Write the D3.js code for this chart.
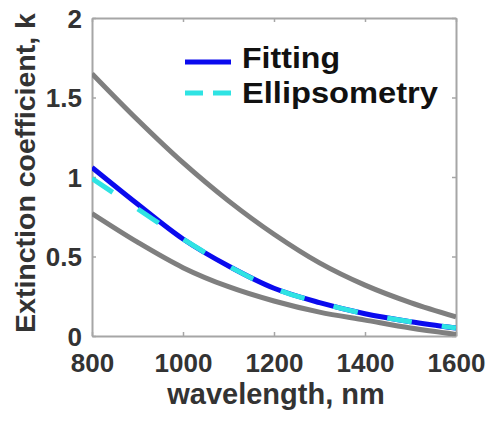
<!DOCTYPE html>
<html>
<head>
<meta charset="utf-8">
<script src="https://cdn.jsdelivr.net/npm/d3@7"></script>
<style>
  html, body { margin: 0; padding: 0; background: #fff; }
  svg { display: block; }
  text { font-family: "Liberation Sans", Arial, sans-serif; font-weight: bold; }
</style>
</head>
<body>
<svg id="chart" width="489" height="422"></svg>
<script>
// ---- data ----
const wavelengths = [800, 900, 1000, 1100, 1200, 1300, 1400, 1500, 1600];
const upperBound  = [1.65, 1.36, 1.09, 0.85, 0.64, 0.46, 0.32, 0.21, 0.12];
const fitting     = [1.06, 0.83, 0.61, 0.44, 0.30, 0.21, 0.14, 0.09, 0.05];
const ellipsometry= [0.99, 0.80, 0.61, 0.44, 0.30, 0.21, 0.14, 0.09, 0.05];
const lowerBound  = [0.77, 0.59, 0.43, 0.31, 0.22, 0.15, 0.10, 0.05, 0.01];
const xTicks = [800, 1000, 1200, 1400, 1600];
const yTicks = [0, 0.5, 1, 1.5, 2];
const legendLabels = ["Fitting", "Ellipsometry"];

const svg = d3.select("#chart");
const m = { left: 92, right: 456, top: 18, bottom: 336 };

const x = d3.scaleLinear().domain([800, 1600]).range([m.left, m.right]);
const y = d3.scaleLinear().domain([0, 2]).range([m.bottom, m.top]);

svg.append("defs").append("clipPath").attr("id", "clip")
  .append("rect").attr("x", m.left).attr("y", m.top)
  .attr("width", m.right - m.left).attr("height", m.bottom - m.top);

const axisColor = "#a6a6a6";
const labelColor = "#333333";

// axes (ticks inward, box)
const gx = svg.append("g").attr("transform", `translate(0,${m.bottom})`)
  .call(d3.axisBottom(x).tickValues(xTicks).tickSizeInner(-4).tickSizeOuter(0).tickFormat(d3.format("d")));
const gxTop = svg.append("g").attr("transform", `translate(0,${m.top})`)
  .call(d3.axisTop(x).tickValues(xTicks).tickSizeInner(-4).tickSizeOuter(0).tickFormat(""));
const gy = svg.append("g").attr("transform", `translate(${m.left},0)`)
  .call(d3.axisLeft(y).tickValues(yTicks).tickSizeInner(-4).tickSizeOuter(0).tickFormat(d3.format("")));
const gyR = svg.append("g").attr("transform", `translate(${m.right},0)`)
  .call(d3.axisRight(y).tickValues(yTicks).tickSizeInner(-4).tickSizeOuter(0).tickFormat(""));

[gx, gxTop, gy, gyR].forEach(g => {
  g.select(".domain").attr("stroke", axisColor).attr("stroke-width", 2);
  g.selectAll(".tick line").attr("stroke", axisColor).attr("stroke-width", 1.5);
});
gx.selectAll(".tick text").attr("font-size", 26).attr("fill", labelColor)
  .attr("font-family", "Liberation Sans, Arial, sans-serif").attr("font-weight", "bold")
  .attr("dy", "0").attr("y", 36);
gy.selectAll(".tick text").attr("font-size", 26).attr("fill", labelColor)
  .attr("font-family", "Liberation Sans, Arial, sans-serif").attr("font-weight", "bold")
  .attr("x", -10).attr("dy", "0.36em");

// lines
const line = d3.line().x((d, i) => x(wavelengths[i])).y(d => y(d)).curve(d3.curveCatmullRom.alpha(0.5));
const plot = svg.append("g").attr("clip-path", "url(#clip)");
plot.append("path").datum(upperBound).attr("d", line)
  .attr("fill", "none").attr("stroke", "#7f7f7f").attr("stroke-width", 5);
plot.append("path").datum(lowerBound).attr("d", line)
  .attr("fill", "none").attr("stroke", "#7f7f7f").attr("stroke-width", 5);
plot.append("path").datum(fitting).attr("d", line)
  .attr("fill", "none").attr("stroke", "#0a0aee").attr("stroke-width", 5);
plot.append("path").datum(ellipsometry).attr("d", line)
  .attr("fill", "none").attr("stroke", "#2fe3e3").attr("stroke-width", 5)
  .attr("stroke-dasharray", "25,30");

// legend
const leg = svg.append("g");
leg.append("line").attr("x1", 185).attr("x2", 231).attr("y1", 62).attr("y2", 62)
  .attr("stroke", "#0a0aee").attr("stroke-width", 5);
leg.append("line").attr("x1", 185).attr("x2", 231).attr("y1", 93).attr("y2", 93)
  .attr("stroke", "#2fe3e3").attr("stroke-width", 5).attr("stroke-dasharray", "18,10");
leg.append("text").attr("x", 242).attr("y", 68).attr("font-size", 29).attr("fill", "#111")
  .attr("textLength", 98).attr("lengthAdjust", "spacingAndGlyphs").text(legendLabels[0]);
leg.append("text").attr("x", 242).attr("y", 103).attr("font-size", 29).attr("fill", "#111")
  .attr("textLength", 196).attr("lengthAdjust", "spacingAndGlyphs").text(legendLabels[1]);

// axis titles
svg.append("text").attr("x", 276).attr("y", 404).attr("text-anchor", "middle")
  .attr("font-size", 29).attr("fill", labelColor).text("wavelength, nm");
svg.append("text").attr("transform", "translate(35,173) rotate(-90)")
  .attr("text-anchor", "middle").attr("font-size", 28.5).attr("fill", labelColor)
  .text("Extinction coefficient, k");
</script>
</body>
</html>
